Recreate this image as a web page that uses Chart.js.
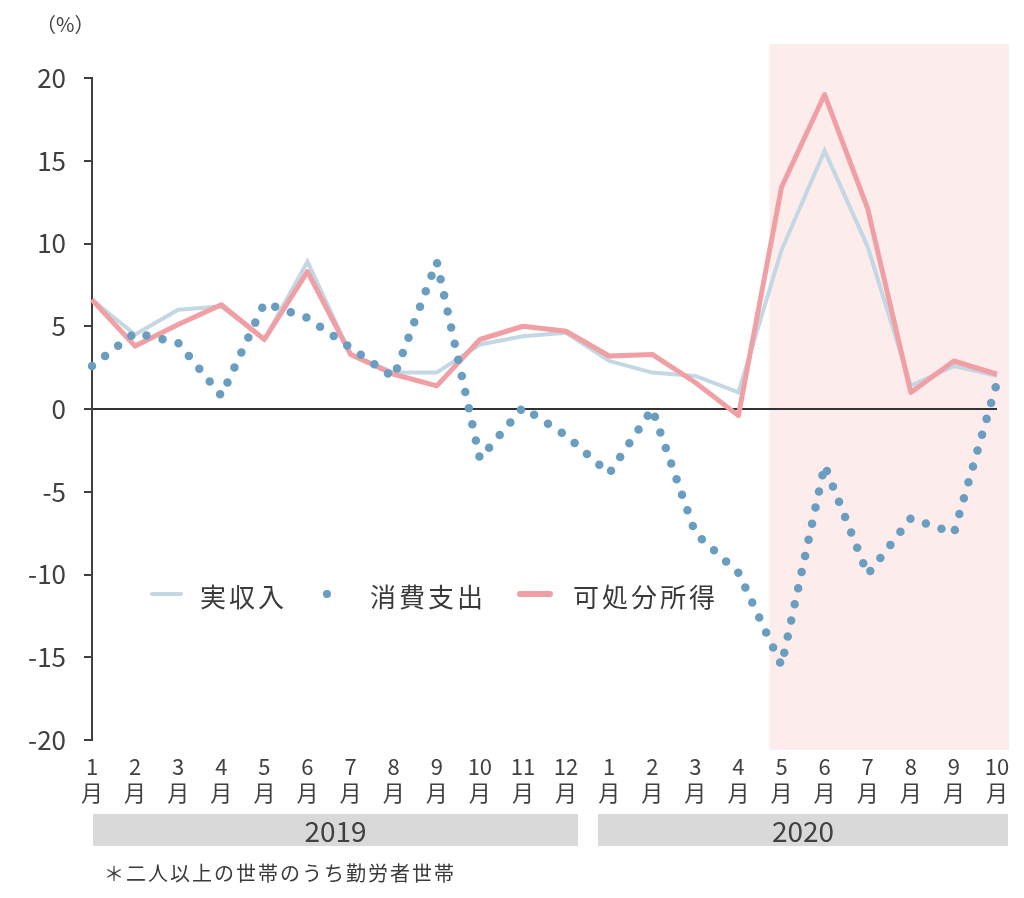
<!DOCTYPE html>
<html>
<head>
<meta charset="utf-8">
<script src="https://cdn.jsdelivr.net/npm/chart.js@4.4.1/dist/chart.umd.min.js"></script>
<style>
  html, body { margin: 0; padding: 0; background: #fff; }
  #wrap { position: relative; width: 1024px; height: 898px; font-family: "Noto Sans CJK JP", "Noto Sans", sans-serif; color: #404040; }
  #c { position: absolute; left: 0; top: 0; }
  .abs { position: absolute; white-space: nowrap; }
  .leg { font-size: 26px; line-height: 30px; letter-spacing: 3px; color: #3a3a3a; }
  .yearbar { background: #d9d9d9; height: 32px; text-align: center; font-size: 28px; line-height: 32px; color: #404040; }
</style>
</head>
<body>
<div id="wrap">
  <canvas id="c" width="1024" height="898"></canvas>
  <div class="abs" style="left:36px; top:10px; font-size:20px; line-height:28px;">（%）</div>

  <div class="abs" style="left:150px; top:592px; width:33px; height:4px; background:#c3d7e4; border-radius:2px;"></div>
  <div class="abs leg" style="left:200px; top:581px;">実収入</div>
  <div class="abs" style="left:323px; top:590px; width:8px; height:8px; background:#6a9ec0; border-radius:50%;"></div>
  <div class="abs leg" style="left:370px; top:581px;">消費支出</div>
  <div class="abs" style="left:517px; top:591px; width:36px; height:6px; background:#f0a0a5; border-radius:3px;"></div>
  <div class="abs leg" style="left:573px; top:581px;">可処分所得</div>

  <div class="abs yearbar" style="left:93px; top:814px; width:485px;">2019</div>
  <div class="abs yearbar" style="left:598px; top:814px; width:410px;">2020</div>

  <div class="abs" style="left:104px; top:859px; font-size:20px; line-height:28px; letter-spacing:2px; color:#3a3a3a;">＊二人以上の世帯のうち勤労者世帯</div>
</div>
<script>
// Categories: 2019年1月〜12月, 2020年1月〜10月
const months = ['1','2','3','4','5','6','7','8','9','10','11','12','1','2','3','4','5','6','7','8','9','10'];
const monthSuffix = '月';

// 実収入 (前年同月比, %)
const jisshunyu = [6.6, 4.5, 6.0, 6.2, 4.2, 8.9, 3.3, 2.2, 2.2, 3.9, 4.4, 4.6, 2.9, 2.2, 2.0, 1.0, 9.6, 15.6, 9.8, 1.4, 2.6, 2.0];
// 消費支出
const shohishishutsu = [2.6, 4.6, 4.0, 0.8, 6.4, 5.5, 3.7, 1.9, 8.9, -3.0, 0.1, -1.6, -3.9, 0.0, -7.5, -9.9, -15.5, -3.4, -10.0, -6.6, -7.5, 1.6];
// 可処分所得
const kashobunshotoku = [6.6, 3.8, 5.1, 6.3, 4.2, 8.3, 3.3, 2.1, 1.4, 4.2, 5.0, 4.7, 3.2, 3.3, 1.6, -0.4, 13.4, 19.0, 12.1, 1.0, 2.9, 2.1];

// Y axis ticks
const yMin = -20, yMax = 20, yStep = 5;

// Highlighted period (category indices: 2020年5月〜10月)
const shadeFrom = 16, shadeTo = 21;

const labels = months.map(m => [m, monthSuffix]);

const shadePlugin = {
  id: 'shade',
  beforeDraw(chart) {
    const { ctx, scales: { x, y } } = chart;
    const step = x.getPixelForValue(1) - x.getPixelForValue(0);
    const left = x.getPixelForValue(shadeFrom) - step * 0.28;
    const right = x.getPixelForValue(shadeTo) + step * 0.28;
    const top = y.getPixelForValue(22.05);
    const bottom = y.getPixelForValue(-20.6);
    ctx.save();
    ctx.fillStyle = '#fdecec';
    ctx.fillRect(left, top, right - left, bottom - top);
    ctx.restore();
  }
};

const FONT = '"Noto Sans CJK JP", "Noto Sans", sans-serif';

new Chart(document.getElementById('c'), {
  type: 'line',
  data: {
    labels: labels,
    datasets: [
      {
        label: '実収入',
        data: jisshunyu,
        borderColor: '#c3d7e4',
        borderWidth: 4,
        pointRadius: 0,
        tension: 0,
        order: 3
      },
      {
        label: '消費支出',
        data: shohishishutsu,
        borderColor: '#6a9ec0',
        borderWidth: 8.5,
        borderDash: [0, 16.5],
        borderCapStyle: 'round',
        pointRadius: 0,
        tension: 0,
        order: 1
      },
      {
        label: '可処分所得',
        data: kashobunshotoku,
        borderColor: '#f0a0a5',
        borderWidth: 5,
        borderJoinStyle: 'round',
        pointRadius: 0,
        tension: 0,
        order: 2
      }
    ]
  },
  options: {
    responsive: false,
    animation: false,
    devicePixelRatio: 1,
    layout: { padding: { top: 78, right: 27, bottom: 0, left: 0 } },
    plugins: { legend: { display: false }, tooltip: { enabled: false } },
    scales: {
      x: {
        offset: false,
        grid: { display: false, drawTicks: false },
        border: { display: false },
        ticks: {
          autoSkip: false, maxRotation: 0, minRotation: 0,
          padding: 13,
          color: '#404040',
          font: { family: FONT, size: 22, lineHeight: 1.2 }
        },
        afterFit(scale) { scale.height = 158; }
      },
      y: {
        min: yMin, max: yMax,
        ticks: {
          stepSize: yStep,
          padding: 18,
          color: '#404040',
          font: { family: FONT, size: 26 }
        },
        grid: {
          color: ctx => (ctx.tick && ctx.tick.value === 0) ? '#333333' : 'rgba(0,0,0,0)',
          lineWidth: 2,
          tickColor: '#404040',
          tickLength: 8,
          drawTicks: true
        },
        border: { display: true, color: '#404040', width: 2 },
        afterFit(scale) { scale.width = 92; }
      }
    }
  },
  plugins: [shadePlugin]
});
</script>
</body>
</html>
